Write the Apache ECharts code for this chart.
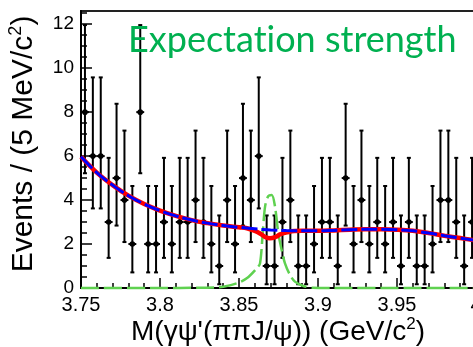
<!DOCTYPE html>
<html>
<head>
<meta charset="utf-8">
<script src="https://cdn.jsdelivr.net/npm/echarts@6/dist/echarts.min.js"></script>
<style>
  html, body { margin: 0; padding: 0; background: #fff; }
  #chart { width: 473px; height: 347px; }
</style>
</head>
<body>
<div id="chart"></div>
<script>
// Histogram binning of M(gamma psi') in GeV/c^2
const massLow = 3.75;
const massHigh = 4.0;
const binWidth = 0.005;

// Events per 5 MeV bin
const counts = [
  8, 6, 6, 3, 5, 4, 2, 8, 2, 2,
  3, 2, 3, 3, 4, 3, 2, 1, 4, 2,
  5, 4, 6, 1, 1, 3, 4, 1, 1, 2,
  3, 3, 1, 5, 2, 4, 2, 3, 2, 3,
  1, 3, 1, 1, 2, 4, 4, 3, 1, 3
];

// Asymmetric Poisson (Garwood) error bars for small counts
const poissonDown = { 1: 0.83, 2: 1.29, 3: 1.63, 4: 1.91, 5: 2.16, 6: 2.38, 8: 2.78 };
const poissonUp   = { 1: 2.30, 2: 2.64, 3: 2.92, 4: 3.16, 5: 3.38, 6: 3.58, 8: 3.96 };

// Fitted background shape [mass, events]
const backgroundFit = [
  [3.75, 5.97], [3.76, 5.25], [3.77, 4.68], [3.78, 4.20], [3.79, 3.82],
  [3.80, 3.52], [3.81, 3.28], [3.82, 3.09], [3.83, 2.95], [3.84, 2.84],
  [3.85, 2.76], [3.86, 2.69], [3.87, 2.64], [3.88, 2.61], [3.89, 2.60],
  [3.90, 2.60], [3.91, 2.62], [3.92, 2.65], [3.93, 2.67], [3.94, 2.67],
  [3.95, 2.65], [3.96, 2.60], [3.97, 2.50], [3.98, 2.38], [3.99, 2.27],
  [4.00, 2.16]
];

// Total fit (background + signal) [mass, events]
const totalFit = [
  [3.75, 5.97], [3.76, 5.25], [3.77, 4.68], [3.78, 4.20], [3.79, 3.82],
  [3.80, 3.52], [3.81, 3.28], [3.82, 3.09], [3.83, 2.95], [3.84, 2.84],
  [3.85, 2.76], [3.855, 2.72], [3.86, 2.60], [3.8633, 2.48], [3.8665, 2.32],
  [3.8696, 2.26], [3.8734, 2.33], [3.876, 2.44], [3.8804, 2.53], [3.885, 2.59],
  [3.89, 2.60], [3.90, 2.60], [3.91, 2.62], [3.92, 2.65], [3.93, 2.67],
  [3.94, 2.67], [3.95, 2.65], [3.96, 2.60], [3.97, 2.50], [3.98, 2.38],
  [3.99, 2.27], [4.00, 2.16]
];

// Expected signal shape [mass, events]
const expectedSignal = [
  [3.75, 0], [3.80, 0], [3.825, 0.01], [3.835, 0.03], [3.8401, 0.06],
  [3.8485, 0.21], [3.8549, 0.44], [3.8612, 0.89], [3.8633, 1.12], [3.8650, 2.48],
  [3.8665, 3.70], [3.8685, 4.18], [3.8707, 4.23], [3.8728, 3.70], [3.8749, 2.48],
  [3.8770, 1.73], [3.8791, 1.12], [3.8823, 0.59], [3.8854, 0.29], [3.8907, 0.09],
  [3.8968, 0.01], [3.91, 0], [4.00, 0]
];

// Axis tick labels
const xTickLabels = ['3.75', '3.8', '3.85', '3.9', '3.95', '4'];
const yTickLabels = ['0', '2', '4', '6', '8', '10', '12'];

const xStep = 0.05;
const yStep = 2;
const yMax = 12.6;
const yMajorValues = yTickLabels.map(Number);
const yMinorValues = [];
for (let v = 0; v <= yMax; v += 0.5) yMinorValues.push(v);

const points = counts.map((n, i) => [
  massLow + binWidth * (i + 0.5), n, n - poissonDown[n], n + poissonUp[n]
]);

const sansFont = "'Liberation Sans', Arial, sans-serif";

const chart = echarts.init(document.getElementById('chart'), null, { renderer: 'canvas' });

function renderPoint(params, api) {
  const x = api.value(0), y = api.value(1), lo = api.value(2), hi = api.value(3);
  const c = api.coord([x, y]);
  const top = api.coord([x, hi]);
  const bot = api.coord([x, lo]);
  const left = api.coord([x - binWidth / 2, y]);
  const right = api.coord([x + binWidth / 2, y]);
  const line = { stroke: '#000', lineWidth: 2 };
  const cap = 2;
  return {
    type: 'group',
    children: [
      { type: 'line', shape: { x1: c[0], y1: top[1], x2: c[0], y2: bot[1] }, style: line },
      { type: 'line', shape: { x1: c[0] - cap, y1: top[1], x2: c[0] + cap, y2: top[1] }, style: line },
      { type: 'line', shape: { x1: c[0] - cap, y1: bot[1], x2: c[0] + cap, y2: bot[1] }, style: line },
      { type: 'line', shape: { x1: left[0], y1: c[1], x2: right[0], y2: c[1] }, style: line },
      { type: 'circle', shape: { cx: c[0], cy: c[1], r: 2.8 }, style: { fill: '#000' } }
    ]
  };
}

chart.setOption({
  animation: false,
  backgroundColor: '#fff',
  grid: {
    left: 81, top: 11, width: 395, height: 277,
    outerBoundsMode: 'none',
    show: true, borderColor: '#222', borderWidth: 2, backgroundColor: 'transparent'
  },
  xAxis: {
    type: 'value', min: massLow, max: massHigh, interval: xStep,
    axisLine: { show: true, onZero: false, lineStyle: { color: '#000', width: 2 } },
    axisTick: { show: true, inside: true, length: 10, lineStyle: { color: '#000', width: 1.5 } },
    minorTick: { show: true, splitNumber: 5, length: 5, lineStyle: { color: '#000', width: 1.5 } },
    splitLine: { show: false },
    minorSplitLine: { show: false },
    axisLabel: {
      fontSize: 20, color: '#000', fontFamily: sansFont, margin: 7,
      formatter: v => xTickLabels[Math.round((v - massLow) / xStep)] || ''
    }
  },
  yAxis: [
    {
      type: 'value', min: 0, max: yMax,
      axisLine: { show: true, lineStyle: { color: '#000', width: 2 } },
      axisTick: { show: true, inside: true, length: 11, customValues: yMajorValues,
                  lineStyle: { color: '#000', width: 1.5 } },
      splitLine: { show: false },
      axisLabel: {
        customValues: yMajorValues, fontSize: 19, color: '#000', fontFamily: sansFont, margin: 7,
        formatter: v => yTickLabels[Math.round(v / yStep)]
      }
    },
    {
      type: 'value', min: 0, max: yMax, position: 'left',
      axisLine: { show: false },
      axisTick: { show: true, inside: true, length: 6, customValues: yMinorValues,
                  lineStyle: { color: '#000', width: 1.5 } },
      splitLine: { show: false },
      axisLabel: { show: false }
    }
  ],
  series: [
    {
      type: 'custom', name: 'data', renderItem: renderPoint, data: points,
      encode: { x: 0, y: 1 }, clip: false, z: 3
    },
    {
      type: 'line', name: 'expected', data: expectedSignal, smooth: 0.3, showSymbol: false,
      clip: false, z: 4,
      lineStyle: { color: '#5fd150', width: 2.5, type: [18, 5] }
    },
    {
      type: 'line', name: 'total', data: totalFit, smooth: 0.4, showSymbol: false, z: 5,
      lineStyle: { color: '#ff0000', width: 4.5 }
    },
    {
      type: 'line', name: 'background', data: backgroundFit, smooth: 0.4, showSymbol: false, z: 6,
      lineStyle: { color: '#0000ff', width: 3, type: [16, 4] }
    }
  ],
  graphic: [
    {
      type: 'text', x: 24, y: 144, rotation: Math.PI / 2, z: 10,
      style: {
        text: '{a|Events / (5 MeV/c}{s|2}{a|)}',
        align: 'center', verticalAlign: 'middle', fill: '#000',
        rich: {
          a: { fontSize: 30, fontFamily: sansFont, fill: '#000', lineHeight: 34 },
          s: { fontSize: 18, fontFamily: sansFont, fill: '#000', lineHeight: 34, verticalAlign: 'top' }
        }
      }
    },
    {
      type: 'text', x: 278, y: 332, z: 10,
      style: {
        text: "{a|M(γψ'(ππJ/ψ)) (GeV/c}{s|2}{a|)}",
        align: 'center', verticalAlign: 'middle', fill: '#000',
        rich: {
          a: { fontSize: 28, fontFamily: sansFont, fill: '#000', lineHeight: 32 },
          s: { fontSize: 17, fontFamily: sansFont, fill: '#000', lineHeight: 32, verticalAlign: 'top' }
        }
      }
    },
    {
      type: 'text', x: 128, y: 40, z: 20,
      style: {
        // ZWNJ keeps the "t" and "i" as separate glyphs
        text: 'Expectat\u200Cion strength',
        align: 'left', verticalAlign: 'middle', fill: '#00b050',
        fontSize: 36, fontFamily: "Lato, 'Open Sans', sans-serif"
      }
    }
  ]
});
</script>
</body>
</html>
